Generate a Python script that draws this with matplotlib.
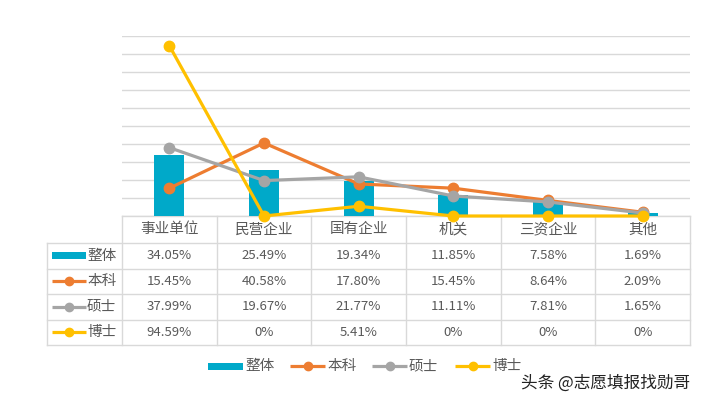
import matplotlib.pyplot as plt
from matplotlib.patches import Rectangle

plt.rcParams['font.family'] = ['Noto Sans CJK SC', 'DejaVu Sans']

# data
categories = ['事业单位', '民营企业', '国有企业', '机关', '三资企业', '其他']
series_names = ['整体', '本科', '硕士', '博士']
overall = [34.05, 25.49, 19.34, 11.85, 7.58, 1.69]
bachelor = [15.45, 40.58, 17.80, 15.45, 8.64, 2.09]
master = [37.99, 19.67, 21.77, 11.11, 7.81, 1.65]
doctor = [94.59, 0, 5.41, 0, 0, 0]

colors = ['#00A9C9', '#ED7D31', '#A5A5A5', '#FFC000']
text_c = '#595959'
grid_c = '#D9D9D9'

W, H = 703, 403
fig = plt.figure(figsize=(W / 100, H / 100), dpi=100)

# layout in pixels
left, right = 122, 690
top, base = 36, 216
key_left = 47
row_edges = [243, 268.5, 294, 319.5, 345]
col_w = (right - left) / len(categories)

# chart part
ax = fig.add_axes([left / W, 1 - base / H, (right - left) / W, (base - top) / H])
ax.set_zorder(2)
ax.patch.set_alpha(0)
x = range(len(categories))
ax.bar(x, overall, width=0.32, color=colors[0], zorder=2)
for vals, c in zip([bachelor, master, doctor], colors[1:]):
    ax.plot(x, vals, color=c, lw=2.3, marker='o', ms=7.5, zorder=3, clip_on=False)
ax.set_xlim(-0.5, len(categories) - 0.5)
ax.set_ylim(0, 100)
ax.set_yticks(range(0, 101, 10))
ax.yaxis.grid(True, color=grid_c, lw=1)
ax.set_axisbelow(True)
ax.tick_params(left=False, bottom=False, labelleft=False, labelbottom=False)
for s in ax.spines.values():
    s.set_visible(False)

# table + legend, drawn in pixel coords
tx = fig.add_axes([0, 0, 1, 1])
tx.set_zorder(1)
tx.set_xlim(0, W)
tx.set_ylim(H, 0)
tx.axis('off')

tx.plot([left, right], [base, base], color=grid_c, lw=1)
for yy in row_edges:
    tx.plot([key_left, right], [yy, yy], color=grid_c, lw=1)
tx.plot([key_left, key_left], [row_edges[0], row_edges[-1]], color=grid_c, lw=1)
for i in range(len(categories) + 1):
    xx = left + i * col_w
    tx.plot([xx, xx], [base, row_edges[-1]], color=grid_c, lw=1)

for i, cat in enumerate(categories):
    tx.text(left + (i + 0.5) * col_w, (base + row_edges[0]) / 2, cat,
            ha='center', va='center', fontsize=10.5, color=text_c)


def fmt(v):
    return '0%' if v == 0 else f'{v:.2f}%'


def draw_key(xa, xb, y, k):
    if k == 0:
        tx.add_patch(Rectangle((xa, y - 3.5), xb - xa, 7, color=colors[0], lw=0))
    else:
        tx.plot([xa, xb], [y, y], color=colors[k], lw=2.3, solid_capstyle='butt')
        tx.plot([(xa + xb) / 2], [y], 'o', color=colors[k], ms=6)


all_series = [overall, bachelor, master, doctor]
for r, (name, vals) in enumerate(zip(series_names, all_series)):
    yc = (row_edges[r] + row_edges[r + 1]) / 2
    draw_key(52, 86, yc, r)
    tx.text(87, yc, name, ha='left', va='center', fontsize=10.5, color=text_c)
    for i, v in enumerate(vals):
        tx.text(left + (i + 0.5) * col_w, yc, fmt(v), ha='center', va='center',
                fontsize=9.5, color=text_c)

# bottom legend
leg_x = [208, 290, 372, 455]
for k, (name, lx) in enumerate(zip(series_names, leg_x)):
    draw_key(lx, lx + 35, 366, k)
    tx.text(lx + 37, 366, name, ha='left', va='center', fontsize=10.5, color=text_c)

tx.text(690, 383, '头条 @志愿填报找勋哥', ha='right', va='center', fontsize=12, color='#222222')

fig.savefig('out.png', dpi=100)
